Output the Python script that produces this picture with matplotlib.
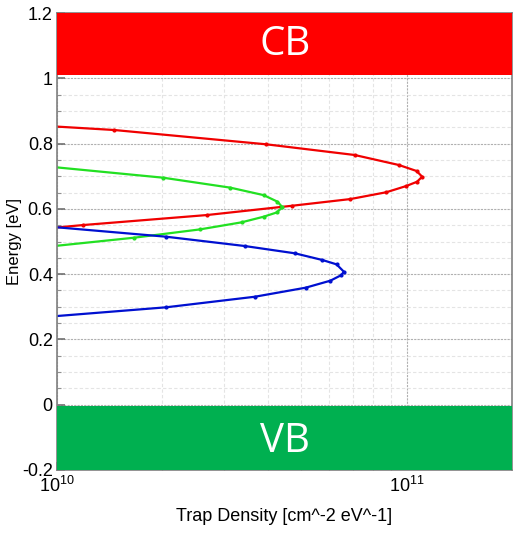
import matplotlib.pyplot as plt
import numpy as np
from matplotlib.ticker import FixedLocator, NullFormatter, FixedFormatter, MultipleLocator

plt.rcParams['font.family'] = ['Liberation Sans Narrow', 'Liberation Sans', 'DejaVu Sans']
plt.rcParams['mathtext.fontset'] = 'custom'
plt.rcParams['mathtext.rm'] = 'Liberation Sans'
plt.rcParams['mathtext.it'] = 'Liberation Sans'

# trap density profiles: (density, energy) pairs
red_density = [1.0e10, 1.19e10, 2.68e10, 4.71e10, 6.9e10, 8.75e10, 9.97e10, 1.07e11,
               1.107e11, 1.067e11, 9.5e10, 7.1e10, 3.97e10, 1.46e10, 1.0e10]
red_energy = [0.543, 0.5505, 0.581, 0.6096, 0.630, 0.651, 0.670, 0.683,
              0.6985, 0.716, 0.7343, 0.765, 0.7977, 0.8415, 0.852]

green_density = [1.0e10, 1.66e10, 2.56e10, 3.37e10, 3.9e10, 4.25e10,
                 4.41e10, 4.27e10, 3.9e10, 3.13e10, 2.01e10, 1.0e10]
green_energy = [0.487, 0.5116, 0.537, 0.5587, 0.576, 0.589,
                0.605, 0.622, 0.642, 0.665, 0.6955, 0.727]

blue_density = [1.0e10, 2.05e10, 3.68e10, 5.14e10, 6.05e10, 6.5e10,
                6.61e10, 6.3e10, 5.74e10, 4.79e10, 3.44e10, 2.05e10, 1.0e10]
blue_energy = [0.2717, 0.2984, 0.3308, 0.3585, 0.380, 0.397,
               0.4075, 0.430, 0.4433, 0.4638, 0.4862, 0.5147, 0.5435]

# band edges
cb_range = (1.01, 1.2)
vb_range = (-0.2, -0.003)

fig = plt.figure(figsize=(5.14, 5.33), dpi=100)
ax = fig.add_axes([0.1109, 0.1182, 0.8852, 0.8574])

ax.set_xscale('log')
ax.set_xlim(1e10, 2e11)
ax.set_ylim(-0.2, 1.2)

ax.axhspan(cb_range[0], cb_range[1], color='#FF0000', zorder=3, lw=0)
ax.axhspan(vb_range[0], vb_range[1], color='#00B050', zorder=3, lw=0)
ax.text(0.501, 0.93, 'CB', transform=ax.transAxes, color='white', fontsize=29,
        family=['Open Sans', 'DejaVu Sans'], ha='center', va='center', zorder=4)
ax.text(0.501, 0.062, 'VB', transform=ax.transAxes, color='white', fontsize=29,
        family=['Open Sans', 'DejaVu Sans'], ha='center', va='center', zorder=4)

for dens, en, col in [(red_density, red_energy, '#F00000'),
                      (green_density, green_energy, '#22E022'),
                      (blue_density, blue_energy, '#0010D0')]:
    ax.plot(dens, en, color=col, lw=1.6, marker='o', markersize=2,
            markevery=slice(1, len(dens) - 1), zorder=2)

# grid
ax.yaxis.set_major_locator(MultipleLocator(0.2))
ax.yaxis.set_minor_locator(MultipleLocator(0.05))
ax.xaxis.set_major_locator(FixedLocator([1e10, 1e11]))
ax.xaxis.set_minor_locator(FixedLocator([k * 1e10 for k in range(2, 10)]))
ax.xaxis.set_major_formatter(FixedFormatter(['$10^{10}$', '$10^{11}$']))
ax.xaxis.set_minor_formatter(NullFormatter())
ax.yaxis.set_major_formatter(plt.FuncFormatter(lambda v, p: '%g' % round(v, 2) if abs(v) > 1e-9 else '0'))

ax.grid(which='major', color='#b0b0b0', linestyle=(0, (2, 1)), lw=0.8, zorder=0)
ax.grid(which='minor', color='#e4e4e4', linestyle=(0, (3, 2)), lw=0.8, zorder=0)

ax.tick_params(which='major', direction='in', length=6, width=1.2, color='#707070',
               labelsize=13, pad=3)
ax.tick_params(which='minor', direction='in', length=3, width=0.8, color='#909090')
ax.tick_params(axis='x', which='major', pad=4)

for s in ax.spines.values():
    s.set_color('#808080')
    s.set_linewidth(1.2)

ax.set_xlabel('Trap Density [cm^-2 eV^-1]', fontsize=13)
ax.xaxis.set_label_coords(0.5, -0.083)
ax.set_ylabel('Energy [eV]', fontsize=12)
ax.yaxis.set_label_coords(-0.077, 0.5)

fig.savefig('out.png', dpi=100)
